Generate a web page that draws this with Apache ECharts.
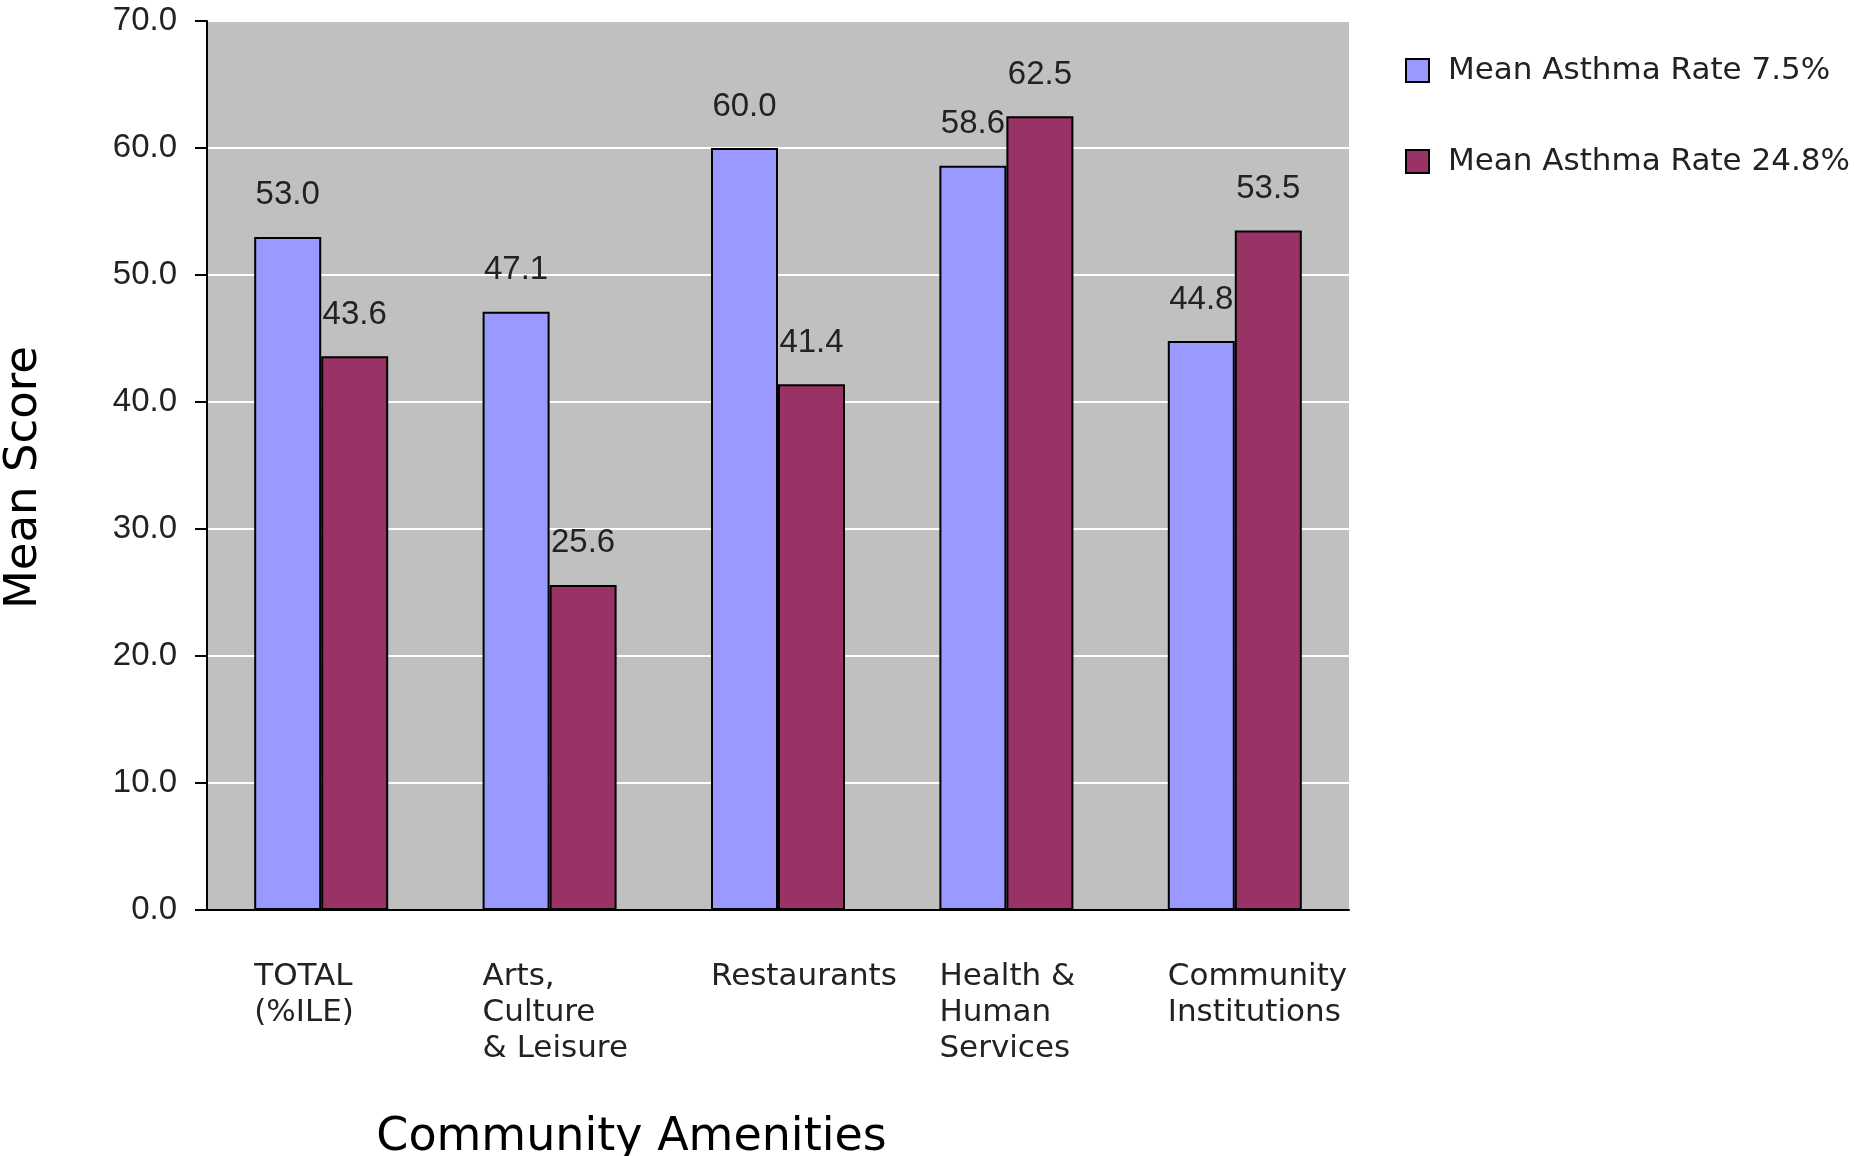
<!DOCTYPE html>
<html>
<head>
<meta charset="utf-8">
<script src="https://cdn.jsdelivr.net/npm/echarts@6/dist/echarts.min.js"></script>
<style>
html,body{margin:0;padding:0;background:#fff;}
#chart{width:1854px;height:1156px;}
</style>
</head>
<body>
<div id="chart"></div>
<script>
const categories = ['TOTAL\n(%ILE)', 'Arts,\nCulture\n& Leisure', 'Restaurants', 'Health &\nHuman\nServices', 'Community\nInstitutions'];
const seriesNames = ['Mean Asthma Rate 7.5%', 'Mean Asthma Rate 24.8%'];
const lowAsthma = [53.0, 47.1, 60.0, 58.6, 44.8];
const highAsthma = [43.6, 25.6, 41.4, 62.5, 53.5];
const yTicks = { min: 0, max: 70, interval: 10 };

const chart = echarts.init(document.getElementById('chart'), null, {renderer: 'canvas'});

const numFont = 'Liberation Sans';
const txtFont = 'DejaVu Sans';

function barSeries(name, data, color) {
  return {
    name: name,
    type: 'bar',
    data: data,
    barWidth: 67,
    barGap: '0%',
    itemStyle: { color: color, borderColor: '#000', borderWidth: 2 },
    label: {
      show: true,
      position: 'top',
      distance: 25,
      color: '#222',
      fontFamily: numFont,
      fontSize: 33,
      lineHeight: 33,
      formatter: p => Number(p.value).toFixed(1)
    }
  };
}

chart.setOption({
  animation: false,
  backgroundColor: '#fff',
  grid: {
    left: 207, right: 505, top: 21, bottom: 246,
    containLabel: false,
    outerBoundsMode: 'none',
    show: true, backgroundColor: '#C0C0C0', borderWidth: 0
  },
  legend: {
    orient: 'vertical',
    left: 1400,
    top: 50,
    itemWidth: 23,
    itemHeight: 23,
    itemGap: 60,
    icon: 'rect',
    itemStyle: { borderColor: '#000', borderWidth: 2 },
    textStyle: {
      fontFamily: txtFont, fontSize: 31, lineHeight: 31, color: '#222',
      padding: [0, 0, 0, 14]
    },
    data: seriesNames
  },
  xAxis: {
    type: 'category',
    data: categories,
    name: 'Community Amenities',
    nameLocation: 'middle',
    nameGap: 205,
    nameTextStyle: {
      fontFamily: txtFont, fontSize: 46, lineHeight: 46, color: '#000',
      padding: [0, 293, 0, 0]
    },
    axisLine: { show: true, lineStyle: { color: '#000', width: 2 } },
    axisTick: { show: false },
    axisLabel: {
      interval: 0,
      margin: 49,
      align: 'center',
      formatter: v => v.split('\n').map(s => '{a|' + s + '}').join('\n'),
      rich: {
        a: {
          width: 134, align: 'left',
          fontFamily: txtFont, fontSize: 31, lineHeight: 36, color: '#222'
        }
      }
    },
    splitLine: { show: false }
  },
  yAxis: {
    type: 'value',
    min: yTicks.min,
    max: yTicks.max,
    interval: yTicks.interval,
    name: 'Mean Score',
    nameLocation: 'middle',
    nameRotate: 90,
    nameGap: 160,
    nameTextStyle: {
      fontFamily: txtFont, fontSize: 45, lineHeight: 45, color: '#000',
      padding: [0, 24, 0, 0]
    },
    axisLine: { show: true, lineStyle: { color: '#000', width: 2 } },
    axisTick: { show: true, inside: false, length: 12, lineStyle: { color: '#000', width: 2 } },
    axisLabel: {
      margin: 30,
      fontFamily: numFont, fontSize: 33, color: '#222',
      formatter: v => Number(v).toFixed(1)
    },
    splitLine: { show: true, lineStyle: { color: '#fff', width: 2 } }
  },
  series: [
    barSeries(seriesNames[0], lowAsthma, '#9999FF'),
    barSeries(seriesNames[1], highAsthma, '#993366')
  ]
});
</script>
</body>
</html>
